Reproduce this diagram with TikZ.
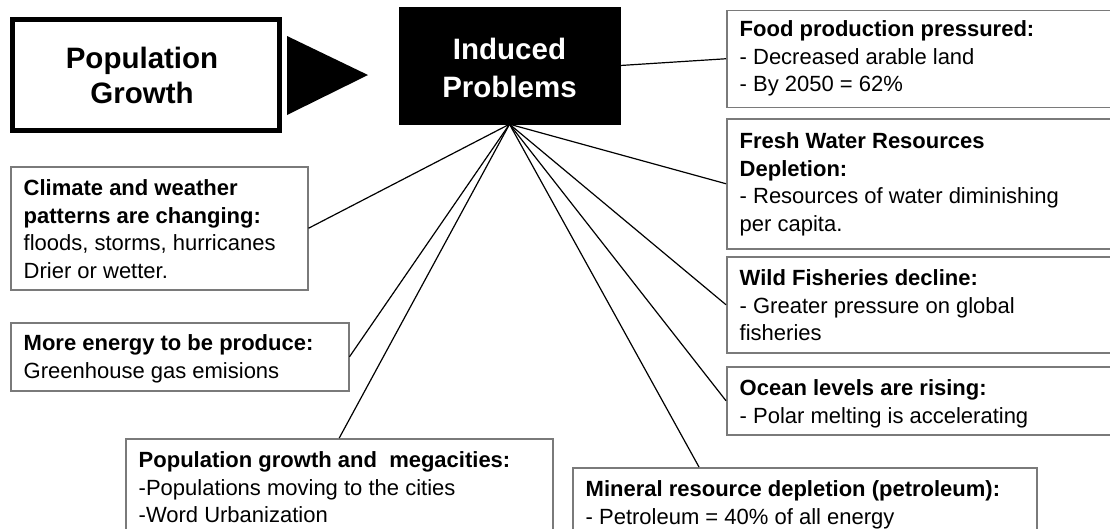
\documentclass[tikz,border=0pt]{standalone}
\usepackage{fontspec}
\setmainfont{Liberation Sans}
\definecolor{boxgray}{HTML}{7A7A7A}
\begin{document}
\begin{tikzpicture}[x=1pt,y=-1pt,
  pbox/.style={draw=boxgray, line width=1.5pt, inner sep=0pt, anchor=north west, fill=white},
  ptext/.style={anchor=north west, inner sep=0pt, align=left, font=\fontsize{22}{27.7}\selectfont},
  link/.style={draw=black, line width=1.2pt},
  bigtext/.style={inner sep=0pt, align=center, font=\fontsize{29.5}{35}\selectfont\bfseries}
]
\useasboundingbox (0,0) rectangle (1110,528);
\clip (0,0) rectangle (1110,528);
\fill[white] (0,0) rectangle (1110,528);

% Population Growth
\node[draw=black, line width=5pt, minimum width=267pt, minimum height=111pt, inner sep=0pt] (pop) at (146,75) {};
\node[bigtext] (popt) at (142,75) {Population\\Growth};

% arrow triangle
\fill[black] (287,36) -- (287,115) -- (368,75) -- cycle;

% Induced Problems
\node[fill=black, draw=black, minimum width=221pt, minimum height=117pt, inner sep=0pt] (induced) at (509.5,65.5) {};
\node[bigtext, text=white, font=\fontsize{29.5}{38}\selectfont\bfseries] (inducedt) at (509.5,67.5) {Induced\\Problems};

% boxes
\node[pbox, minimum width=400pt, minimum height=97pt] (food) at (726,9.5) {};
\node[pbox, minimum width=400pt, minimum height=130pt] (fresh) at (726,118) {};
\node[pbox, minimum width=400pt, minimum height=96pt] (wild) at (726,256) {};
\node[pbox, minimum width=400pt, minimum height=68pt] (ocean) at (726,366) {};
\node[pbox, minimum width=464pt, minimum height=80pt] (mineral) at (572,467) {};
\node[pbox, minimum width=427pt, minimum height=110pt] (mega) at (125,438) {};
\node[pbox, minimum width=338pt, minimum height=68pt] (energy) at (10,322) {};
\node[pbox, minimum width=297pt, minimum height=123pt] (climate) at (10,166) {};

% texts
\node[ptext] (foodt) at (739.5,20.2) {\textbf{Food production pressured:}\\- Decreased arable land\\- By 2050 = 62\%};
\node[ptext] (fresht) at (739.5,132.2) {\textbf{Fresh Water Resources}\\\textbf{Depletion:}\\- Resources of water diminishing\\per capita.};
\node[ptext] (wildt) at (739.5,269.2) {\textbf{Wild Fisheries decline:}\\- Greater pressure on global\\fisheries};
\node[ptext] (oceant) at (739.5,379.2) {\textbf{Ocean levels are rising:}\\- Polar melting is accelerating};
\node[ptext] (mineralt) at (585.5,480.2) {\textbf{Mineral resource depletion (petroleum):}\\- Petroleum = 40\% of all energy};
\node[ptext] (megat) at (138.5,451.2) {\textbf{Population growth and\ \ megacities:}\\-Populations moving to the cities\\-Word Urbanization};
\node[ptext] (energyt) at (23.5,334.2) {\textbf{More energy to be produce:}\\Greenhouse gas emisions};
\node[ptext] (climatet) at (23.5,179.2) {\textbf{Climate and weather}\\\textbf{patterns are changing:}\\floods, storms, hurricanes\\Drier or wetter.};

% connectors
\draw[link] (induced.east) -- (food.west);
\draw[link] (induced.south) -- (fresh.west);
\draw[link] (induced.south) -- (wild.west);
\draw[link] (induced.south) -- (ocean.west);
\draw[link] (induced.south) -- ([xshift=127pt]mineral.north west);
\draw[link] (induced.south) -- (mega.north);
\draw[link] (induced.south) -- (energy.east);
\draw[link] (induced.south) -- (climate.east);
\end{tikzpicture}
\end{document}
